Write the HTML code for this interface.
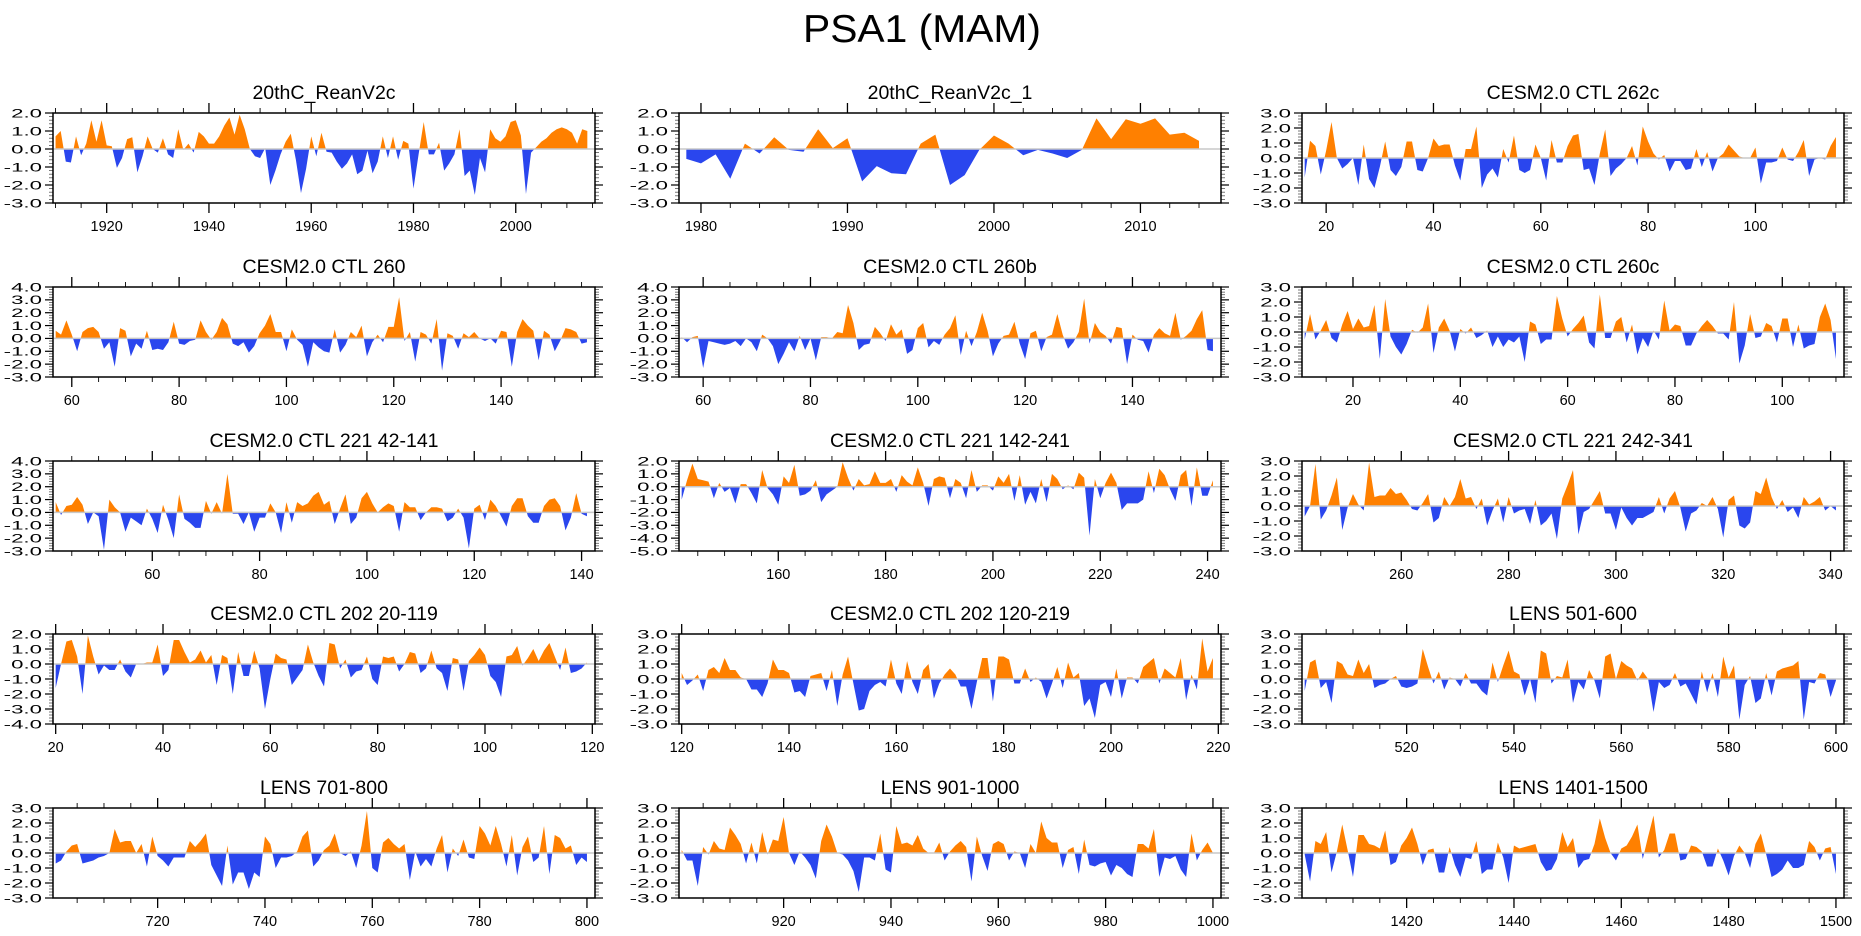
<!DOCTYPE html>
<html><head><meta charset="utf-8"><title>PSA1 (MAM)</title>
<style>
html,body{margin:0;padding:0;background:#fff;}
svg{display:block;font-family:"Liberation Sans",Arial,sans-serif;}
</style></head>
<body>
<svg id="fig" width="1861" height="936" viewBox="0 0 1861 936" xmlns="http://www.w3.org/2000/svg">
<rect width="1861" height="936" fill="#fff"/>
<text x="922" y="42" font-size="39" text-anchor="middle" textLength="238" lengthAdjust="spacingAndGlyphs">PSA1 (MAM)</text>
</svg>
<script>
const titles = ['20thC_ReanV2c','20thC_ReanV2c_1','CESM2.0 CTL 262c','CESM2.0 CTL 260','CESM2.0 CTL 260b','CESM2.0 CTL 260c','CESM2.0 CTL 221 42-141','CESM2.0 CTL 221 142-241','CESM2.0 CTL 221 242-341','CESM2.0 CTL 202 20-119','CESM2.0 CTL 202 120-219','LENS 501-600','LENS 701-800','LENS 901-1000','LENS 1401-1500'];
const firstYears = [1910,1979,16,57,56,11,42,142,242,20,120,501,701,901,1401];
const yMins = [-3,-3,-3,-3,-3,-3,-3,-5,-3,-4,-3,-3,-3,-3,-3];
const yMaxs = [2,2,3,4,4,3,4,2,3,2,3,3,3,3,3];
const xMajorSteps = [20,10,20,20,20,20,20,20,20,20,20,20,20,20,20];
const xMinorSteps = [5,2,5,5,5,5,5,5,5,5,5,5,5,5,5];

const p1 = [0.7,1.0,-0.7,-0.75,0.7,-0.35,0.3,1.6,0.4,1.6,0.2,0.15,-1.05,-0.5,0.55,0.65,-1.3,-0.4,0.7,0.0,-0.2,0.6,-0.3,-0.5,1.1,-0.05,0.3,-0.2,0.95,0.7,0.3,0.3,0.7,1.3,1.75,0.8,1.9,1.1,0.0,-0.4,-0.5,0.05,-2.0,-1.2,-0.3,0.4,0.85,-0.6,-2.45,-1.1,0.7,-0.4,0.9,-0.15,-0.2,-0.7,-1.1,-0.8,-0.3,-1.4,-1.2,-0.1,-1.35,-0.7,0.7,-0.5,0.7,-0.6,0.45,0.3,-2.2,-0.3,1.5,-0.3,-0.3,0.35,-1.2,-0.8,-0.3,1.1,-1.5,-1.2,-2.55,-0.5,-1.3,1.1,0.6,0.4,0.7,1.5,1.6,0.75,-2.5,-0.2,0.1,0.4,0.6,0.9,1.1,1.2,1.1,0.9,0.3,1.1,1.0];
const p2 = [-0.55,-0.8,-0.3,-1.65,0.3,-0.25,0.65,-0.05,-0.15,1.1,0.05,0.6,-1.8,-0.95,-1.35,-1.4,0.3,0.8,-2.0,-1.45,-0.05,0.75,0.3,-0.35,-0.05,-0.25,-0.5,-0.05,1.7,0.55,1.65,1.4,1.7,0.8,0.9,0.45];
const p3 = [-1.3,1.15,0.8,-1.1,0.5,2.4,0.0,-0.7,-0.4,0.0,-1.8,0.9,-1.4,-2.0,-0.6,1.1,-0.8,-1.2,-0.6,1.1,1.1,-0.8,-0.9,0.0,1.3,0.8,0.9,0.9,-0.5,-1.5,0.6,0.6,2.1,-2.0,-1.1,-0.7,-1.3,0.6,-0.3,1.5,-0.8,-1.0,-0.8,0.9,0.0,-1.5,1.2,-0.3,-0.3,0.8,1.5,1.6,-0.8,-0.7,-1.8,0.3,1.9,-1.2,-0.7,-0.4,0.0,0.8,-0.5,2.1,1.1,0.3,-0.1,0.2,-0.9,-0.2,-0.2,-0.8,-0.7,0.6,-0.6,0.4,-0.9,0.0,0.3,0.9,0.5,0.1,0.0,0.0,0.7,-1.7,-0.3,-0.3,-0.2,0.7,-0.1,-0.2,0.4,1.2,-1.2,-0.1,0.0,-0.1,0.8,1.4];
const p4 = [0.6,0.3,1.4,0.3,-1.0,0.5,0.8,0.9,0.5,-0.8,-0.3,-2.2,0.8,0.6,-1.4,-0.4,-0.8,0.6,-0.9,-0.8,-0.9,-0.3,1.3,-0.4,-0.5,-0.2,-0.1,1.4,0.5,-0.1,0.5,1.6,1.1,-0.4,-0.6,-0.3,-1.1,-0.6,0.4,1.0,1.9,0.5,0.5,-1.0,0.7,-0.1,-0.5,-2.2,-0.3,-0.7,-1.0,-1.1,0.7,-1.1,-0.5,0.5,0.1,1.0,-1.4,-0.3,0.3,-0.3,0.9,0.9,3.2,-0.2,0.5,-1.8,0.5,0.3,-0.4,1.5,-2.5,0.4,0.2,-0.8,0.4,0.1,0.5,0.0,-0.2,0.0,-0.4,0.6,0.5,-2.2,0.5,1.5,1.0,0.6,-1.7,0.6,0.3,-1.0,-0.2,0.8,0.7,0.5,-0.4,-0.3];
const p5 = [0.1,-0.3,0.1,0.2,-2.3,-0.2,-0.3,-0.4,-0.5,-0.4,-0.2,-0.6,0.0,-0.3,-1.0,0.3,0.0,-0.6,-2.0,-1.2,-0.3,-1.0,0.2,-0.9,0.0,-1.7,0.1,0.1,0.0,0.5,0.4,2.6,1.2,-0.9,-0.5,-0.4,0.9,0.4,-0.2,1.1,0.3,0.7,-1.2,-0.9,0.8,1.2,-0.7,-0.2,-0.5,0.3,0.8,1.8,-1.3,0.6,-0.6,0.5,2.0,0.6,-1.4,-0.4,0.2,0.3,1.3,-0.4,-1.6,0.4,0.6,-1.0,0.1,0.3,1.9,0.3,-0.8,-0.3,0.5,3.1,-0.4,1.2,0.5,0.2,-0.4,0.9,0.8,-2.0,0.3,-0.1,-0.2,-1.1,0.3,0.8,0.4,0.2,2.0,-0.1,0.2,0.6,1.5,2.2,-0.9,-1.0];
const p6 = [-0.5,1.2,-0.5,0.1,0.8,-0.4,-0.7,0.5,1.4,0.2,0.9,0.3,0.4,1.8,-1.8,2.2,-0.3,-1.0,-1.5,-0.8,0.15,-0.05,0.3,1.9,-1.4,0.3,0.9,0.1,-1.3,0.2,-0.1,0.3,-0.4,-0.2,0.1,-1.0,-0.3,-1.0,-0.5,-0.7,-0.3,-2.0,0.7,0.5,-0.8,-0.5,-0.5,2.4,0.9,-0.3,0.2,0.6,1.1,-0.7,-1.1,2.5,-0.4,-0.4,0.7,1.0,-0.7,0.5,-1.5,-0.4,-1.0,0.1,-0.5,2.1,0.1,0.5,0.4,-0.9,-0.9,-0.1,0.4,0.8,0.4,-0.1,-0.1,-0.5,2.0,-2.1,-0.9,1.2,-0.4,-0.3,0.6,0.4,-0.7,0.9,0.9,-1.0,0.5,-1.1,-0.9,-0.8,1.0,1.9,0.8,-1.8];
const p7 = [0.8,-0.2,0.5,0.6,1.2,0.6,-0.9,0.0,-0.3,-2.9,1.0,0.4,0.0,-1.5,-0.4,-0.7,-1.0,0.3,-0.5,-1.6,0.6,-0.6,-2.0,1.4,-0.5,-0.8,-1.2,-1.2,0.9,-0.1,0.8,-0.1,3.0,-0.1,-0.1,-0.9,0.0,-1.5,-0.4,-0.4,0.7,0.0,-1.6,0.8,-0.8,0.8,0.5,0.7,1.3,1.6,0.6,0.9,-0.9,0.3,1.4,-0.9,-0.4,1.1,1.6,0.7,0.0,0.4,0.7,0.5,-1.5,0.8,0.4,0.4,-0.6,0.0,0.4,0.4,0.3,-0.7,-0.4,0.3,-0.4,-2.8,0.3,0.6,-0.6,1.0,0.5,-0.3,-1.1,0.5,1.1,1.1,-0.3,-0.8,-0.8,0.5,1.0,1.1,0.5,-1.4,-0.4,1.5,-0.1,-0.3];
const p8 = [-1.0,0.5,1.8,0.6,0.5,0.4,-0.9,0.3,-0.4,-0.1,-1.3,0.2,0.2,-0.5,-1.3,1.3,-0.1,-0.6,-1.4,0.8,0.3,1.7,-0.7,-0.6,-0.3,0.5,-1.2,-0.6,-0.3,0.0,1.9,0.7,-0.3,0.6,0.1,0.2,1.2,0.3,0.3,0.6,-0.4,0.9,0.4,0.1,1.5,0.3,-1.5,0.6,0.8,0.7,-0.9,0.6,0.3,-0.9,1.3,-0.4,0.1,0.1,-0.3,0.8,0.3,1.0,-1.1,0.9,-1.4,-0.4,-1.3,0.6,-1.2,1.0,0.6,-0.2,0.1,-0.2,1.1,0.7,-3.8,0.6,-0.9,0.3,1.1,0.3,-1.8,-1.3,-1.3,-1.3,-1.0,1.2,-0.5,1.4,0.9,-0.2,-1.1,0.9,1.3,-1.5,1.5,-0.7,-0.7,0.5];
const p9 = [-0.7,0.0,2.8,-0.9,-0.3,0.7,1.9,-1.6,-0.1,0.8,0.1,-0.3,2.9,0.6,0.7,0.7,1.2,0.8,0.9,0.4,-0.2,-0.3,0.2,0.8,-1.1,-0.8,0.6,0.0,0.6,1.8,0.5,0.6,-0.2,0.5,-1.3,-0.3,0.5,-1.1,0.6,-0.5,-0.3,-0.2,-1.2,0.4,-1.3,-1.0,-0.5,-2.2,0.5,1.4,2.4,-1.9,-0.4,-0.2,0.4,1.0,-0.5,-0.5,-1.6,-0.1,-0.8,-1.3,-0.8,-0.8,-0.6,-0.4,0.6,-0.5,0.5,1.0,-0.1,-1.7,-0.5,-0.3,0.2,0.0,0.6,-0.2,-2.1,0.4,0.7,-1.3,-1.5,-1.1,1.0,0.8,1.9,0.6,-0.2,0.4,-0.4,-0.1,-0.8,0.6,0.1,0.3,0.6,-0.3,0.0,-0.3];
const p10 = [-1.6,0.0,1.5,1.6,0.5,-2.0,1.9,0.5,-0.7,-0.1,-0.4,-0.4,0.3,-0.5,-0.9,0.0,0.0,0.1,0.1,1.3,-0.8,-0.4,1.6,1.6,0.8,0.1,0.3,0.9,0.1,0.6,-1.4,0.6,0.4,-2.0,0.8,-0.8,-0.8,0.9,-0.3,-3.0,-1.0,0.7,0.4,0.3,-1.4,-0.9,-0.4,1.3,0.1,-0.8,-1.5,1.4,1.3,-0.3,0.3,-0.9,-0.5,-0.4,0.5,-1.0,-1.4,0.5,0.4,0.5,-0.5,0.0,0.8,0.7,-0.6,-0.3,0.9,-0.3,-0.6,-1.8,0.4,0.3,-1.8,0.2,0.6,1.1,0.6,-0.8,-1.2,-2.2,0.5,0.6,1.2,-0.1,0.4,1.0,0.2,0.9,1.4,0.5,-0.4,1.1,-0.6,-0.5,-0.3,0.1];
const p11 = [0.4,-0.4,-0.1,0.3,-0.8,0.6,0.8,0.4,1.4,0.6,0.6,0.1,0.0,-0.7,-0.7,-1.2,-0.3,1.3,0.6,0.6,0.4,-0.9,-0.8,-1.2,0.2,0.3,0.4,-0.8,0.6,-1.8,0.3,1.5,-0.3,-2.1,-2.0,-0.8,-0.4,-0.2,-0.5,1.3,-0.3,-1.0,1.2,-0.2,-1.0,0.6,1.0,-1.3,-0.3,0.3,0.7,0.3,-0.5,-0.5,-2.0,-0.2,1.4,1.4,-1.5,1.5,1.5,1.3,-0.3,-0.3,0.7,-0.2,0.1,-0.2,-1.3,-0.3,0.8,-0.6,1.1,0.1,0.4,-1.8,-1.3,-2.6,-0.4,-0.2,-1.2,0.7,-1.3,0.1,0.1,-0.3,0.8,1.1,1.4,-0.3,0.7,0.4,0.1,1.4,-1.4,0.3,-0.7,2.7,0.5,1.4];
const p12 = [-0.8,1.1,1.3,-0.6,-0.2,-1.6,1.2,1.0,0.3,0.2,1.3,0.4,1.0,-0.6,-0.4,-0.3,0.0,0.2,-0.5,-0.6,-0.5,-0.3,2.0,0.8,-0.3,0.5,-0.7,0.1,0.0,-0.5,0.4,-0.3,-0.3,-0.8,-1.1,1.1,-0.2,0.9,1.9,0.5,0.3,-1.1,0.0,-1.6,1.9,1.7,-0.3,0.2,0.1,1.3,-1.6,-0.2,-0.7,0.6,-0.1,-1.3,1.5,1.7,0.0,1.2,0.9,0.7,-0.1,0.5,0.0,-2.2,-0.2,-0.6,-0.4,0.4,-0.5,-0.3,-1.0,-1.7,0.5,-0.9,0.4,-1.2,1.5,0.1,0.9,-2.7,-0.4,0.2,-1.6,-1.3,0.4,-1.1,0.5,0.7,0.8,0.9,1.2,-2.7,-0.2,-0.3,0.4,0.3,-1.2,-0.1];
const p13 = [-0.7,-0.5,0.1,0.5,0.6,-0.7,-0.6,-0.5,-0.3,-0.2,0.0,1.6,0.7,0.8,0.8,0.0,0.6,-0.9,1.1,-0.2,-0.5,-0.9,-0.3,-0.3,-0.3,0.8,0.4,0.8,1.3,-0.8,-1.5,-2.2,0.5,-2.1,-1.3,-1.3,-2.4,-1.3,-1.6,1.1,0.6,-1.0,-0.3,-0.3,-0.2,0.1,1.1,1.5,-0.9,-0.5,0.2,0.5,1.3,0.0,-0.2,0.1,-1.0,0.5,2.8,-1.0,-1.3,0.7,1.0,0.6,0.3,0.6,-1.8,0.1,-0.9,-0.4,-0.9,0.3,1.2,-1.3,0.3,-0.2,0.9,-0.3,-0.4,1.8,1.3,0.5,1.8,0.6,-0.9,1.2,-1.5,0.4,1.1,-0.6,-0.3,1.8,-1.4,1.2,1.0,0.3,0.5,-0.8,-0.3,-0.6];
const p14 = [0.2,-0.5,-0.5,-2.2,0.4,-0.1,0.8,0.3,0.2,1.7,1.2,0.6,-0.7,0.7,-0.7,1.4,-0.1,0.9,0.8,2.4,0.0,-0.8,0.1,-0.3,-0.8,-1.7,0.8,1.9,1.1,0.0,-0.1,-0.5,-1.2,-2.6,-0.3,-0.3,-0.5,1.3,-1.1,-1.3,1.8,0.6,0.7,0.5,1.2,0.3,0.0,0.0,0.7,-0.5,0.1,0.5,0.8,0.4,-1.9,1.1,-0.2,-1.2,0.6,0.8,0.6,-0.5,0.1,0.0,-1.0,0.6,0.0,2.1,1.0,0.7,0.7,-1.0,0.2,0.4,-1.4,0.9,-0.8,-0.9,-0.7,-0.6,-1.5,-0.8,-1.0,-1.4,-1.6,0.6,0.6,0.3,1.6,-1.6,-0.3,-0.4,-0.2,-1.1,-1.6,1.3,-0.5,0.2,0.7,0.0];
const p15 = [-0.1,-1.9,0.8,0.6,1.4,-1.3,0.1,1.9,0.2,-1.6,1.2,1.2,0.6,0.5,0.3,1.5,-0.8,-0.6,0.5,1.0,1.7,0.6,-0.8,0.2,0.3,-1.3,-1.3,0.4,-0.8,-1.6,-0.3,-0.4,0.8,-1.4,-1.1,-1.1,0.7,-0.3,-2.0,0.5,0.3,0.4,0.5,0.6,-0.6,-1.2,-1.1,-0.4,1.4,0.4,1.0,-1.0,-0.5,-0.4,0.6,2.3,1.0,0.0,-0.5,0.3,0.5,1.1,1.9,-0.4,1.1,2.5,-0.3,0.2,1.3,1.3,-0.5,-0.4,0.5,0.4,0.1,-0.9,-0.9,0.3,-0.5,-1.5,-0.2,0.5,0.0,-1.0,0.6,1.3,-0.1,-1.6,-1.4,-1.1,-0.5,-1.0,-1.0,-0.8,0.8,0.4,-0.5,0.3,0.4,-1.4];
const seriesList = [p1,p2,p3,p4,p5,p6,p7,p8,p9,p10,p11,p12,p13,p14,p15];

const NS = 'http://www.w3.org/2000/svg';
const svg = document.getElementById('fig');
const colX = [53,679,1302], rowY = [113,287,461,634,808], BW = 542, BH = 90;
function mk(tag, attrs, parent){ const e=document.createElementNS(NS,tag); for(const k in attrs) e.setAttribute(k,attrs[k]); (parent||svg).appendChild(e); return e; }
function natW(s){ let w=0; for(const c of s){ w += c==='-'?0.333:(c==='.'?0.278:0.556); } return w; }
function fmt(v){ return (v<0?'-':'')+Math.abs(v).toFixed(1); }

titles.forEach((title,i)=>{
  const L = colX[i%3], T = rowY[Math.floor(i/3)];
  const vals = seriesList[i], x0 = firstYears[i];
  const xmin = x0-0.5, xmax = x0+vals.length-1+1.5;
  const ymin = yMins[i], ymax = yMaxs[i];
  const xs = v => L + (v-xmin)/(xmax-xmin)*BW;
  const ys = v => T + (ymax-v)/(ymax-ymin)*BH;
  const g = mk('g',{});
  
  
  const tt = mk('text',{x:L+BW/2,y:T-14,'font-size':19.5,'text-anchor':'middle',fill:'#000'},g);
  tt.textContent = title;
  
  
  const cid='c'+i;
  const defs = mk('defs',{},g);
  const cpA = mk('clipPath',{id:cid+'a'},defs); mk('rect',{x:L,y:T,width:BW,height:ys(0)-T},cpA);
  const cpB = mk('clipPath',{id:cid+'b'},defs); mk('rect',{x:L,y:ys(0),width:BW,height:T+BH-ys(0)},cpB);
  let d = 'M'+xs(x0).toFixed(2)+','+ys(0).toFixed(2);
  vals.forEach((v,k)=>{ d += ' L'+xs(x0+k).toFixed(2)+','+ys(v).toFixed(2); });
  d += ' L'+xs(x0+vals.length-1).toFixed(2)+','+ys(0).toFixed(2)+' Z';
  const pos = mk('path',{d:d,fill:'#ff8000','clip-path':'url(#'+cid+'a)'},g);
  
  
  const neg = mk('path',{d:d,fill:'#2a46ee','clip-path':'url(#'+cid+'b)'},g);
  
  
  const zl = mk('line',{x1:L,x2:L+BW,y1:ys(0),y2:ys(0),stroke:'#c8c8c8','stroke-width':1.5},g);
  
  
  for(let v=ymin; v<=ymax+1e-9; v+=1){
    const y=ys(v);
    mk('line',{x1:L-8,x2:L,y1:y,y2:y,stroke:'#000','stroke-width':1.2},g);
    mk('line',{x1:L+BW,x2:L+BW+8,y1:y,y2:y,stroke:'#000','stroke-width':1.2},g);
    const s=fmt(v);
    const lb = mk('text',{x:L-11,y:y+4.3,'font-size':12,'text-anchor':'end',textLength:(natW(s)*12*1.85).toFixed(1),lengthAdjust:'spacingAndGlyphs'},g);
    lb.textContent=s;
    
    
    if(v<ymax) for(let m=1;m<5;m++){ const ym=ys(v+m*0.2);
      mk('line',{x1:L-4,x2:L,y1:ym,y2:ym,stroke:'#555','stroke-width':0.8},g);
      mk('line',{x1:L+BW,x2:L+BW+4,y1:ym,y2:ym,stroke:'#555','stroke-width':0.8},g); }
  }
  const mj=xMajorSteps[i], mn=xMinorSteps[i];
  for(let v=Math.ceil(xmin/mn)*mn; v<=xmax; v+=mn){
    const x=xs(v), major=(v%mj===0), len=major?10:5;
    mk('line',{x1:x,x2:x,y1:T-len,y2:T,stroke:'#000','stroke-width':major?1.3:0.9},g);
    mk('line',{x1:x,x2:x,y1:T+BH,y2:T+BH+len,stroke:'#000','stroke-width':major?1.3:0.9},g);
    if(major){ const lb=mk('text',{x:x,y:T+BH+28,'font-size':14.5,'text-anchor':'middle'},g);
      lb.textContent=String(v);
      
       }
  }
  const box = mk('rect',{x:L,y:T,width:BW,height:BH,fill:'none',stroke:'#000','stroke-width':1.5},g);
  
  
});
</script>
</body></html>
